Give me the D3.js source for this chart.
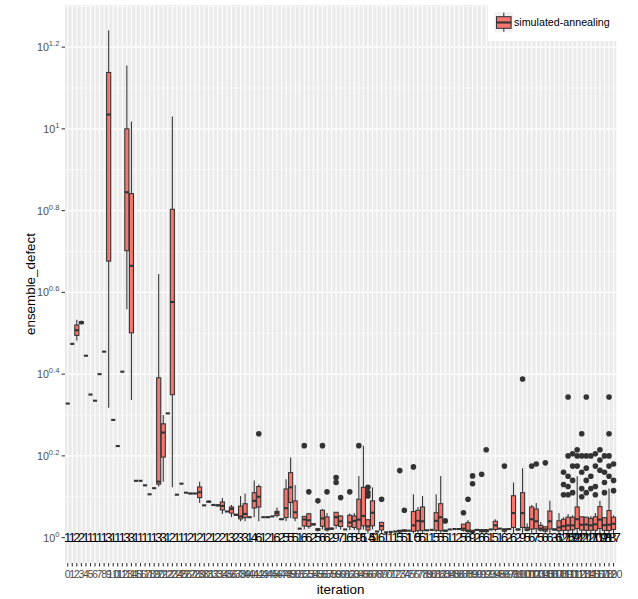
<!DOCTYPE html>
<html>
<head>
<meta charset="utf-8">
<script src="https://cdn.jsdelivr.net/npm/d3@7/dist/d3.min.js"></script>
<style>
  body { margin: 0; background: #fff; }
  svg { display: block; }
  text { font-family: "Liberation Sans", Arial, Helvetica, sans-serif; }
</style>
</head>
<body>
<svg id="chart" width="638" height="599"></svg>
<script>
// Iterations on the x axis
const iterations = [
  0,1,2,3,4,5,6,7,8,9,10,11,12,13,14,15,16,17,18,19,
  20,21,22,23,24,25,26,27,28,29,30,31,32,33,34,35,36,37,38,39,
  40,41,42,43,44,45,46,47,48,49,50,51,52,53,54,55,56,57,58,59,
  60,61,62,63,64,65,66,67,68,69,70,71,72,73,74,75,76,77,78,79,
  80,81,82,83,84,85,86,87,88,89,90,91,92,93,94,95,96,97,98,99,
  100,101,102,103,104,105,106,107,108,109,110,111,112,113,114,115,116,117,118,119,120
];

// log10(ensemble_defect) of every run, one list per iteration
const log10Defect = [
  [0.328],
  [0.474],
  [0.482,0.533],
  [0.521,0.531],
  [0.445],
  [0.350],
  [0.335],
  [0.400],
  [0.455],
  [0.318,1.035,1.241],
  [0.288],
  [0.224],
  [0.406],
  [0.559,0.845,1.155],
  [0.337,0.665,1.018],
  [0.139],
  [0.139],
  [0.128],
  [0.106],
  [0.121],
  [0.125,0.137,0.645],
  [0.137,0.257,0.300],
  [0.304],
  [0.123,1.030],
  [0.105],
  [0.132],
  [0.110],
  [0.107,0.109],
  [0.108],
  [0.085,0.137],
  [0.079],
  [0.086,0.090],
  [0.080],
  [0.077,0.081],
  [0.058,0.097],
  [0.064],
  [0.050,0.070,0.080],
  [0.054,0.058],
  [0.040,0.052,0.102],
  [0.040,0.058,0.108],
  [0.050],
  [0.050,0.080,0.100,0.140],
  [0.040,0.070,0.090,0.110,0.130,0.254],
  [0.050],
  [0.049,0.051],
  [0.052],
  [0.050,0.053,0.058,0.062,0.065,0.074],
  [0.044,0.046],
  [0.040,0.049,0.072,0.119,0.143],
  [0.048,0.086,0.123,0.159,0.196],
  [0.040,0.048,0.062,0.090,0.129],
  [0.022],
  [0.020,0.025,0.040,0.049,0.053,0.225],
  [0.022,0.025,0.035,0.050,0.061,0.112],
  [0.030,0.035],
  [0.015,0.018,0.020,0.022,0.090],
  [0.020,0.025,0.036,0.058,0.070,0.225],
  [0.015,0.018,0.020,0.023,0.060,0.112],
  [0.020,0.024],
  [0.022,0.025,0.030,0.041,0.050,0.058,0.062,0.135,0.147],
  [0.020,0.025,0.030,0.040,0.051,0.055,0.098],
  [0.020],
  [0.018,0.025,0.032,0.042,0.059,0.112],
  [0.018,0.025,0.041,0.053,0.060],
  [0.012,0.018,0.021,0.030,0.044,0.070,0.094,0.151,0.225],
  [0.020,0.029,0.053,0.123,0.225],
  [0.010,0.012,0.015,0.018,0.020,0.022,0.025,0.030,0.035,0.040,0.045,0.102,0.110,0.123],
  [0.020,0.029,0.061,0.090,0.123],
  [0.015],
  [0.012,0.017,0.025,0.032,0.039,0.094],
  [0.013],
  [0.014],
  [0.015],
  [0.012,0.014,0.016,0.018,0.164],
  [0.014,0.016,0.017,0.019,0.067],
  [0.017],
  [0.010,0.012,0.015,0.017,0.025,0.035,0.048,0.069,0.106,0.173],
  [0.012,0.017,0.041,0.067,0.075],
  [0.012,0.017,0.040,0.075,0.102],
  [0.018],
  [0.019],
  [0.014,0.018,0.041,0.061,0.106],
  [0.012,0.017,0.050,0.083,0.151],
  [0.015,0.016,0.017,0.018,0.041],
  [0.020],
  [0.021],
  [0.020,0.022],
  [0.015,0.018,0.022,0.033,0.061],
  [0.012,0.014,0.016,0.018,0.043,0.094],
  [0.010,0.012,0.013,0.014,0.015,0.016,0.018,0.132,0.151],
  [0.018,0.020],
  [0.012,0.014,0.016,0.018,0.020,0.155],
  [0.012,0.014,0.016,0.018,0.020,0.215],
  [0.020],
  [0.015,0.020,0.030,0.040,0.045],
  [0.022],
  [0.012,0.015,0.018,0.020,0.022,0.175],
  [0.020,0.022],
  [0.012,0.020,0.040,0.080,0.110,0.135],
  [0.018,0.022],
  [0.012,0.018,0.025,0.035,0.060,0.090,0.110,0.170,0.388],
  [0.015,0.018,0.020,0.025,0.035],
  [0.012,0.018,0.030,0.060,0.080,0.175],
  [0.012,0.018,0.025,0.040,0.055,0.085,0.180],
  [0.015,0.018,0.022,0.030,0.038],
  [0.012,0.015,0.018,0.022,0.028,0.183],
  [0.012,0.018,0.030,0.050,0.070,0.090],
  [0.018,0.020,0.022],
  [0.012,0.016,0.020,0.030,0.045,0.060],
  [0.000,0.008,0.012,0.015,0.018,0.020,0.022,0.025,0.028,0.030,0.035,0.040,0.045,0.050,0.105,0.130,0.160],
  [0.000,0.005,0.010,0.012,0.015,0.016,0.018,0.020,0.022,0.024,0.026,0.028,0.030,0.032,0.035,0.038,0.040,0.045,0.050,0.058,0.105,0.125,0.150,0.200,0.344],
  [0.000,0.008,0.012,0.015,0.018,0.020,0.022,0.025,0.028,0.030,0.033,0.036,0.040,0.045,0.055,0.110,0.140,0.175,0.205],
  [0.000,0.006,0.010,0.014,0.018,0.022,0.026,0.030,0.035,0.040,0.045,0.050,0.055,0.060,0.068,0.075,0.085,0.150,0.175,0.200,0.215],
  [0.000,0.005,0.010,0.012,0.015,0.018,0.020,0.022,0.025,0.028,0.030,0.033,0.036,0.040,0.044,0.048,0.052,0.100,0.120,0.160,0.200,0.254],
  [0.000,0.006,0.010,0.014,0.016,0.018,0.020,0.023,0.026,0.029,0.032,0.035,0.038,0.042,0.046,0.050,0.110,0.140,0.170,0.200,0.344],
  [0.000,0.008,0.012,0.015,0.018,0.021,0.024,0.027,0.030,0.034,0.038,0.042,0.047,0.053,0.120,0.150,0.200],
  [0.000,0.005,0.010,0.013,0.016,0.019,0.022,0.025,0.028,0.031,0.034,0.037,0.040,0.044,0.048,0.060,0.105,0.125,0.175,0.205],
  [0.000,0.008,0.012,0.016,0.020,0.024,0.028,0.033,0.038,0.044,0.050,0.056,0.064,0.072,0.080,0.090,0.165,0.190,0.215],
  [0.000,0.006,0.010,0.014,0.017,0.020,0.023,0.026,0.029,0.032,0.036,0.040,0.045,0.050,0.110,0.135,0.160,0.200],
  [0.000,0.004,0.008,0.010,0.012,0.014,0.016,0.018,0.020,0.022,0.024,0.026,0.028,0.030,0.033,0.036,0.040,0.043,0.046,0.050,0.055,0.100,0.120,0.150,0.175,0.200,0.254,0.344],
  [0.000,0.008,0.012,0.016,0.020,0.023,0.026,0.030,0.034,0.038,0.042,0.046,0.050,0.055,0.115,0.140,0.180]
];

// Powers of ten labelled on the y axis
const yTickExponents = [0, 0.2, 0.4, 0.6, 0.8, 1, 1.2];
const seriesName = "simulated-annealing";
const xTitle = "iteration";
const yTitle = "ensemble_defect";

const fillColor = "#F8766D";
const inkColor = "#333333";
const panelColor = "#EBEBEB";

const svg = d3.select("#chart");
const panel = { left: 65, right: 616.3, top: 5, bottom: 563 };

// Box statistics (R type-7 quantiles, 1.5 IQR whiskers) on the log scale
const stats = iterations.map((it, i) => {
  const v = log10Defect[i].slice().sort(d3.ascending);
  const q1 = d3.quantile(v, 0.25), med = d3.quantile(v, 0.5), q3 = d3.quantile(v, 0.75);
  const iqr = q3 - q1;
  const lo = q1 - 1.5 * iqr, hi = q3 + 1.5 * iqr;
  const inside = v.filter(d => d >= lo && d <= hi);
  return {
    it, n: v.length, q1, med, q3,
    wlo: d3.min(inside), whi: d3.max(inside),
    out: v.filter(d => d < lo || d > hi)
  };
});

const [mn, mx] = d3.extent(log10Defect.flat());
const pad = (mx - mn) * 0.05;
const y = d3.scaleLog()
  .domain([Math.pow(10, mn - pad), Math.pow(10, mx + pad)])
  .range([panel.bottom, panel.top]);
const x = d3.scalePoint()
  .domain(iterations)
  .range([panel.left, panel.right])
  .padding(0.6);
const ye = e => y(Math.pow(10, e));
const boxW = x.step() * 0.9;

// Panel background and grid
svg.append("rect")
  .attr("x", panel.left).attr("y", panel.top)
  .attr("width", panel.right - panel.left).attr("height", panel.bottom - panel.top)
  .attr("fill", panelColor);

const grid = svg.append("g");
const minorExp = d3.pairs(yTickExponents).map(([a, b]) => (a + b) / 2);
minorExp.push(yTickExponents[yTickExponents.length - 1] + 0.1);
grid.selectAll("line.minor").data(minorExp.filter(e => ye(e) >= panel.top)).enter()
  .append("line")
  .attr("x1", panel.left).attr("x2", panel.right)
  .attr("y1", d => ye(d)).attr("y2", d => ye(d))
  .attr("stroke", "#fff").attr("stroke-width", 0.55);
grid.selectAll("line.majory").data(yTickExponents).enter()
  .append("line")
  .attr("x1", panel.left).attr("x2", panel.right)
  .attr("y1", d => ye(d)).attr("y2", d => ye(d))
  .attr("stroke", "#fff").attr("stroke-width", 1.07);
grid.selectAll("line.majorx").data(iterations).enter()
  .append("line")
  .attr("x1", d => x(d)).attr("x2", d => x(d))
  .attr("y1", panel.top).attr("y2", panel.bottom)
  .attr("stroke", "#fff").attr("stroke-width", 1.07);

// Boxplots
const boxes = svg.append("g");
stats.forEach(s => {
  const cx = x(s.it);
  const g = boxes.append("g");
  g.append("line")
    .attr("x1", cx).attr("x2", cx)
    .attr("y1", ye(s.whi)).attr("y2", ye(s.q3))
    .attr("stroke", inkColor).attr("stroke-width", 1.07);
  g.append("line")
    .attr("x1", cx).attr("x2", cx)
    .attr("y1", ye(s.q1)).attr("y2", ye(s.wlo))
    .attr("stroke", inkColor).attr("stroke-width", 1.07);
  g.append("rect")
    .attr("x", cx - boxW / 2).attr("width", boxW)
    .attr("y", ye(s.q3)).attr("height", ye(s.q1) - ye(s.q3))
    .attr("fill", fillColor).attr("stroke", inkColor).attr("stroke-width", 1.07);
  g.append("line")
    .attr("x1", cx - boxW / 2).attr("x2", cx + boxW / 2)
    .attr("y1", ye(s.med)).attr("y2", ye(s.med))
    .attr("stroke", inkColor).attr("stroke-width", 2.1);
  g.selectAll("circle").data(s.out).enter()
    .append("circle")
    .attr("cx", cx).attr("cy", d => ye(d)).attr("r", 2.8)
    .attr("fill", inkColor);
});

// Number of runs per iteration, written at 10^0
svg.append("g").selectAll("text").data(stats).enter()
  .append("text")
  .attr("x", d => x(d.it))
  .attr("y", ye(0))
  .attr("dy", "0.35em")
  .attr("text-anchor", "middle")
  .attr("font-size", 13.4)
  .attr("fill", "#000")
  .text(d => d.n);

// Y axis
const yAxis = svg.append("g");
yTickExponents.forEach(e => {
  const yy = ye(e);
  yAxis.append("line")
    .attr("x1", panel.left - 3.4).attr("x2", panel.left)
    .attr("y1", yy).attr("y2", yy)
    .attr("stroke", inkColor).attr("stroke-width", 1.07);
  const t = yAxis.append("text")
    .attr("x", panel.left - 5.6).attr("y", yy + 4)
    .attr("text-anchor", "end")
    .attr("fill", "#4D4D4D")
    .attr("font-size", 10.7);
  t.append("tspan").text("10");
  t.append("tspan").attr("dy", -5).attr("font-size", 7.6).text(String(e));
});

// X axis
const xAxis = svg.append("g");
xAxis.selectAll("line").data(iterations).enter()
  .append("line")
  .attr("x1", d => x(d)).attr("x2", d => x(d))
  .attr("y1", panel.bottom).attr("y2", panel.bottom + 3.4)
  .attr("stroke", inkColor).attr("stroke-width", 1.07);
xAxis.selectAll("text").data(iterations).enter()
  .append("text")
  .attr("x", d => x(d))
  .attr("y", panel.bottom + 14.6)
  .attr("text-anchor", "middle")
  .attr("fill", "#4D4D4D")
  .attr("font-size", 10.7)
  .text(d => d);

// Axis titles
svg.append("text")
  .attr("x", (panel.left + panel.right) / 2)
  .attr("y", 594)
  .attr("text-anchor", "middle")
  .attr("font-size", 13.4)
  .attr("fill", "#000")
  .text(xTitle);
svg.append("text")
  .attr("transform", `translate(35,${(panel.top + panel.bottom) / 2}) rotate(-90)`)
  .attr("text-anchor", "middle")
  .attr("font-size", 13.4)
  .attr("fill", "#000")
  .text(yTitle);

// Legend
const legend = svg.append("g");
legend.append("rect")
  .attr("x", 488).attr("y", 5).attr("width", 132).attr("height", 36)
  .attr("fill", "#fff");
legend.append("rect")
  .attr("x", 494.5).attr("y", 12).attr("width", 18.5).attr("height", 20.5)
  .attr("fill", "#F2F2F2");
legend.append("line")
  .attr("x1", 503.8).attr("x2", 503.8).attr("y1", 12.7).attr("y2", 31.7)
  .attr("stroke", inkColor).attr("stroke-width", 1.07);
legend.append("rect")
  .attr("x", 496.5).attr("y", 16.7).attr("width", 14.6).attr("height", 11.6)
  .attr("fill", fillColor).attr("stroke", inkColor).attr("stroke-width", 1.07);
legend.append("line")
  .attr("x1", 496.5).attr("x2", 511.1).attr("y1", 22.5).attr("y2", 22.5)
  .attr("stroke", inkColor).attr("stroke-width", 2.1);
legend.append("text")
  .attr("x", 514).attr("y", 26)
  .attr("font-size", 10.7)
  .attr("fill", "#000")
  .text(seriesName);
</script>
</body>
</html>
